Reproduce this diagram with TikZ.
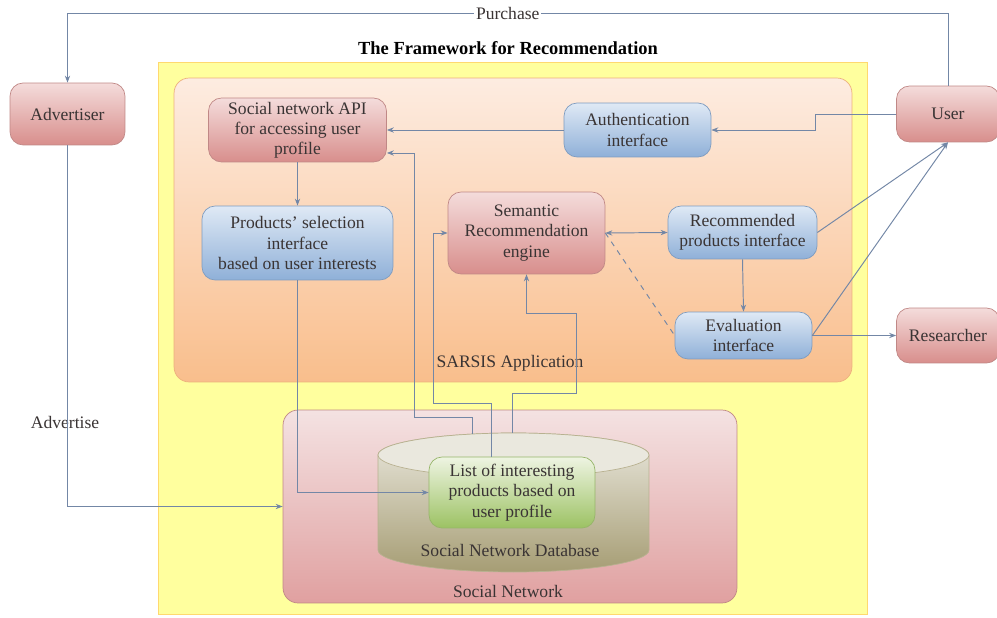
\documentclass[tikz,border=0pt]{standalone}
\usepackage{fontspec}
\setmainfont{Liberation Serif}
\usetikzlibrary{arrows.meta}
\usetikzlibrary{positioning}
\definecolor{mline}{rgb}{0.45, 0.53, 0.65}
\definecolor{mpinkT}{HTML}{F4DCDB}
\definecolor{mpinkB}{HTML}{D88E8C}
\definecolor{mpinkD}{HTML}{C08886}
\definecolor{mblueT}{HTML}{DFE9F5}
\definecolor{mblueB}{HTML}{8FB0D8}
\definecolor{mblueD}{HTML}{7E9CC0}
\definecolor{mgreenT}{HTML}{EEF4E2}
\definecolor{mgreenB}{HTML}{9CC263}
\definecolor{myellow}{HTML}{FFFF9E}
\definecolor{morangeT}{HTML}{FDECE1}
\definecolor{morangeB}{HTML}{F9BE8C}
\definecolor{msnT}{HTML}{F4E2E2}
\definecolor{msnB}{HTML}{E0A0A0}
\definecolor{mdbT}{HTML}{EAE8DE}
\definecolor{mdbB}{HTML}{A69D74}
\definecolor{mtext}{HTML}{3A3434}

\begin{document}
\begin{tikzpicture}[x=0.02cm, y=-0.02cm,
    font=\fontsize{10}{11.5}\selectfont, text=mtext,
    box/.style={rounded corners=0.26cm, draw, align=center, inner sep=2pt},
    pinkbox/.style={box, draw=mpinkD, top color=mpinkT, bottom color=mpinkB},
    bluebox/.style={box, draw=mblueD, top color=mblueT, bottom color=mblueB},
    arr/.style={draw=mline, line width=0.55pt, -{Stealth[length=4pt, width=3pt]}},
    biarr/.style={arr, {Stealth[length=4pt, width=3pt]}-{Stealth[length=4pt, width=3pt]}}]
      \useasboundingbox (0, 0) rectangle (997, 618);

      % containers
      \node [fill=myellow, draw=myellow!70!orange, minimum width=14.18cm, minimum height=11.04cm] (frame) at (512.5, 338) {};
      \node [rounded corners=0.3cm, draw=morangeB!80!brown, top color=morangeT, bottom color=morangeB, minimum width=13.56cm, minimum height=6.08cm] (app) at (513, 230) {};
      \node [rounded corners=0.3cm, draw=mpinkD, top color=msnT, bottom color=msnB, minimum width=9.08cm, minimum height=3.86cm] (sn) at (510, 506.5) {};
      \node [font=\fontsize{10.5}{12}\selectfont\bfseries, text=black] (title) at (508, 48) {The Framework for Recommendation};
      \node (sarsis) at (510, 363) {SARSIS Application};
      \node (snlbl) at (508, 591) {Social Network};

      % database
      \draw [draw=mdbB!80!white, top color=mdbT, bottom color=mdbB] (378, 550) -- (378, 455)
        arc [start angle=180, end angle=0, x radius=2.71cm, y radius=0.44cm] -- (649, 550)
        arc [start angle=0, end angle=-180, x radius=2.71cm, y radius=0.44cm] -- cycle;
      \draw [draw=mdbB!80!white, fill=mdbT] (513.5, 455) ellipse [x radius=2.71cm, y radius=0.44cm];
      \coordinate (dbA) at (472, 434);
      \coordinate (dbC) at (512, 433);
      \node (sndb) at (510, 550) {Social Network Database};
      \node [box, draw=mgreenB!80!gray, top color=mgreenT, bottom color=mgreenB, minimum width=3.32cm, minimum height=1.42cm] (list) at (512, 492.5)
        {List of interesting\\products based on\\user profile};

      % boxes
      \node [pinkbox, minimum width=2.3cm, minimum height=1.24cm] (adv) at (67.5, 114) {Advertiser};
      \node [pinkbox, minimum width=2.06cm, minimum height=1.12cm] (user) at (948, 114) {User};
      \node [pinkbox, minimum width=2.06cm, minimum height=1.1cm] (res) at (948, 335.5) {Researcher};
      \node [pinkbox, minimum width=3.56cm, minimum height=1.28cm] (api) at (297.5, 130)
        {Social network API\\for accessing user\\profile};
      \node [bluebox, minimum width=2.94cm, minimum height=1.08cm] (auth) at (637.5, 130) {Authentication\\interface};
      \node [bluebox, minimum width=3.82cm, minimum height=1.48cm] (sel) at (297.5, 243)
        {Products' selection\\interface\\based on user interests};
      \node [pinkbox, minimum width=3.14cm, minimum height=1.64cm] (sem) at (526.5, 233) {Semantic\\Recommendation\\engine};
      \node [bluebox, minimum width=2.98cm, minimum height=1.06cm] (rec) at (742.5, 232.5) {Recommended\\products interface};
      \node [bluebox, minimum width=2.74cm, minimum height=0.94cm] (eval) at (743.5, 335.5) {Evaluation\\interface};
      \node (advlbl) at (65, 422) {Advertise};

      % connectors
      \draw [arr] (user.north) -- (user.north |- 0, 13) -| (adv.north) node [pos=0.25, fill=white, inner sep=1pt] (purch) {Purchase};
      \draw [arr] (adv.south) |- (sn.west);
      \draw [arr] (user.west) -- ++(-81, 0) |- (auth.east);
      \draw [arr] (auth.west) -- (api.east);
      \draw [arr] (api.south) -- (sel.north);
      \draw [arr] (sel.south) |- (list.west);
      \draw [arr] (dbA) |- (414, 417) |- ([yshift=-0.46cm]api.east);
      \draw [arr] ([xshift=-0.42cm]list.north) |- (433, 403) |- (sem.west);
      \draw [arr] (dbC) |- (576, 393) |- (sem.south |- 0, 313) -- (sem.south);
      \draw [biarr] (sem.east) -- (rec.west);
      \draw [draw=mline, line width=0.55pt, dashed] (sem.east) -- (eval.west);
      \draw [arr] (rec.south) -- (eval.north);
      \draw [arr] (rec.east) -- (user.south);
      \draw [arr] (eval.east) -- (user.south);
      \draw [arr] (eval.east) -- (res.west);
    \end{tikzpicture}
\end{document}
